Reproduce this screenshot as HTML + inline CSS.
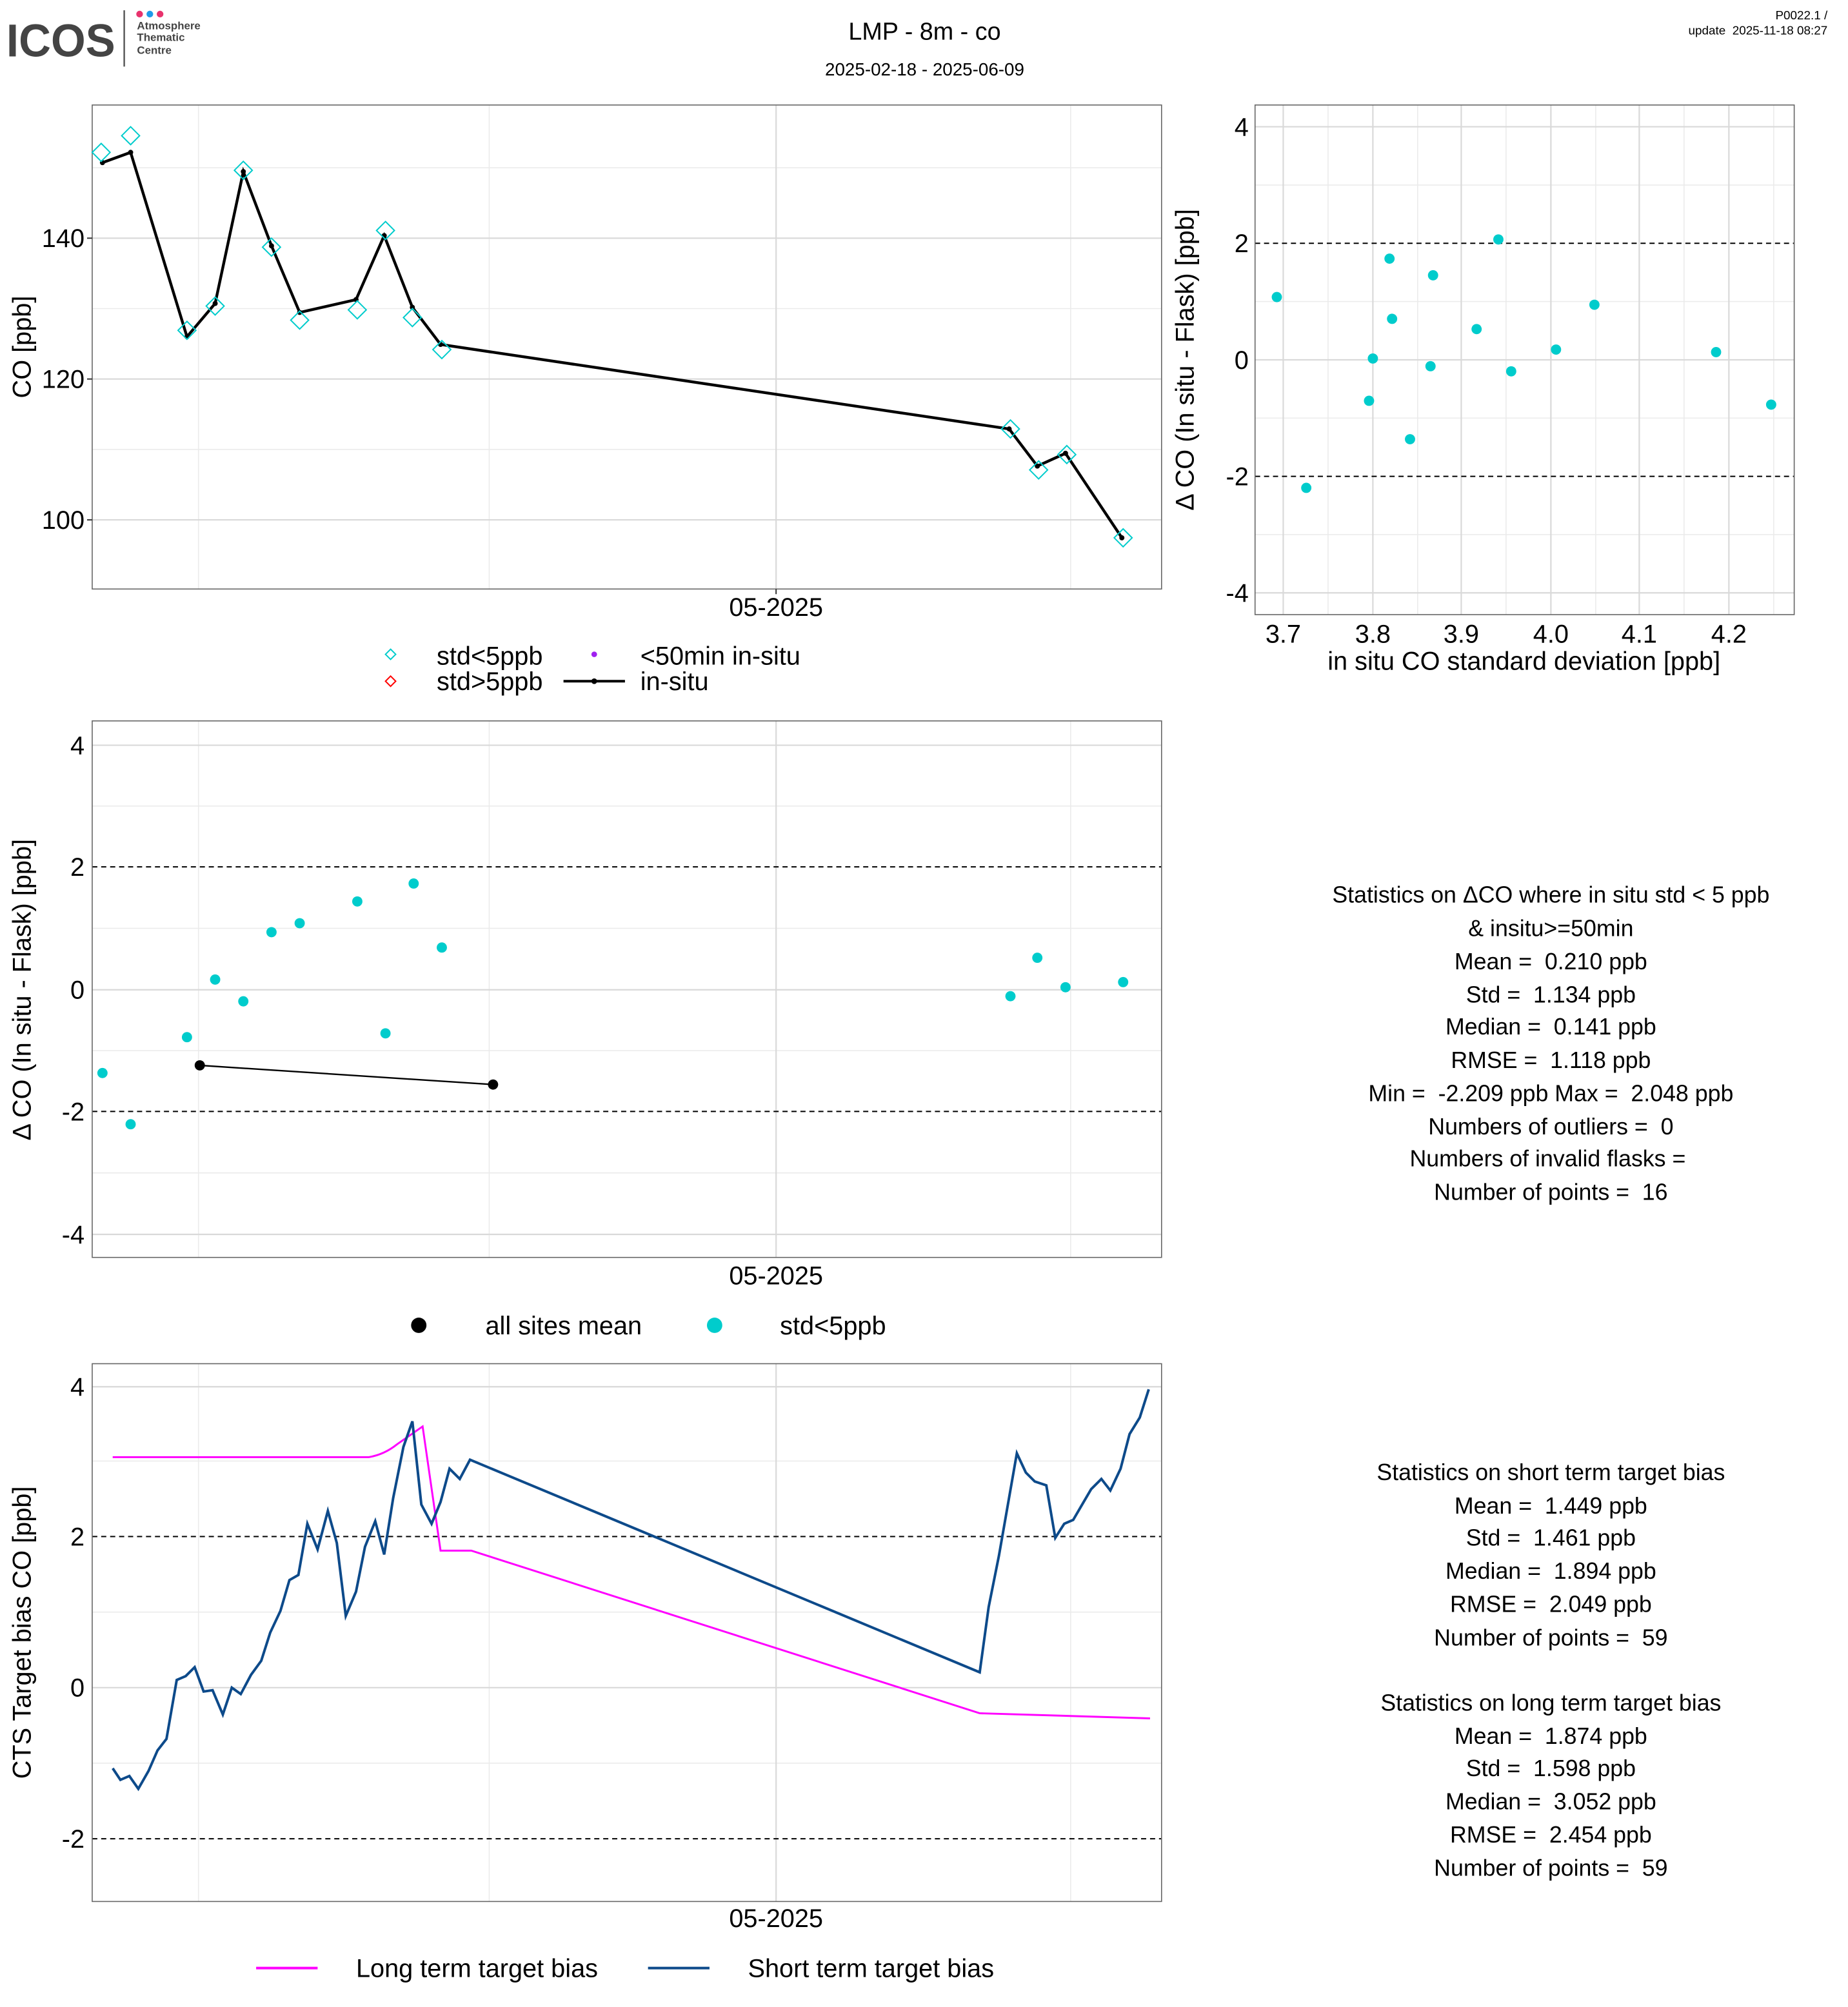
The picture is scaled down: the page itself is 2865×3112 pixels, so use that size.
<!DOCTYPE html>
<html><head><meta charset="utf-8"><style>html,body{margin:0;padding:0;background:#fff}svg{display:block}text{white-space:pre}</style></head>
<body>
<svg width="2865" height="3112" viewBox="0 0 1443 1567.4" preserveAspectRatio="none" xmlns="http://www.w3.org/2000/svg" font-family="Liberation Sans, sans-serif" xml:space="preserve">
<rect width="1443" height="1567.4" fill="#fff"/>
<text x="5" y="44" font-size="36" font-weight="bold" fill="#444" textLength="85" lengthAdjust="spacingAndGlyphs">ICOS</text>
<line x1="97" y1="8" x2="97" y2="52" stroke="#555" stroke-width="1.2"/>
<circle cx="109" cy="11" r="2.6" fill="#e8336d"/><circle cx="117" cy="11" r="2.6" fill="#1e9be9"/><circle cx="125" cy="11" r="2.6" fill="#e8336d"/>
<g font-size="8.5" font-weight="bold" fill="#444"><text x="107" y="23">Atmosphere</text><text x="107" y="32">Thematic</text><text x="107" y="42">Centre</text></g>
<text x="722" y="31" font-size="19" text-anchor="middle">LMP - 8m - co</text>
<text x="722" y="59" font-size="14" text-anchor="middle">2025-02-18 - 2025-06-09</text>
<text x="1427" y="15" font-size="9.5" text-anchor="end">P0022.1 /</text>
<text x="1427" y="27" font-size="9.5" text-anchor="end">update  2025-11-18 08:27</text>

<g>
<g stroke="#ebebeb" stroke-width="0.8"><line x1="72" x2="907" y1="131" y2="131"/><line x1="72" x2="907" y1="241" y2="241"/><line x1="72" x2="907" y1="351" y2="351"/>
<line x1="155" x2="155" y1="82" y2="460"/><line x1="382" x2="382" y1="82" y2="460"/><line x1="836" x2="836" y1="82" y2="460"/></g>
<g stroke="#d9d9d9" stroke-width="1.1"><line x1="72" x2="907" y1="186" y2="186"/><line x1="72" x2="907" y1="296" y2="296"/><line x1="72" x2="907" y1="406" y2="406"/><line x1="606" x2="606" y1="82" y2="460"/></g>
<rect x="72" y="82" width="835" height="378" fill="none" stroke="#666" stroke-width="0.8"/>
<g font-size="20" text-anchor="end"><text x="66" y="193">140</text><text x="66" y="303">120</text><text x="66" y="413">100</text></g>
<g stroke="#333"><line x1="68" x2="72" y1="186" y2="186"/><line x1="68" x2="72" y1="296" y2="296"/><line x1="68" x2="72" y1="406" y2="406"/><line x1="606" x2="606" y1="460" y2="464"/></g>
<text x="606" y="481" font-size="20" text-anchor="middle">05-2025</text>
<text transform="translate(24,271) rotate(-90)" font-size="20" text-anchor="middle">CO [ppb]</text>
<polyline fill="none" stroke="#000" stroke-width="2.2" points="80,127 102,119 146,263 168,237 190,134 212,192 234,244 278,234 300,184 322,240 344,269 788,335 810,364 832,354 876,420"/>
<g fill="#000"><circle cx="80" cy="127" r="2"/><circle cx="102" cy="119" r="2"/><circle cx="146" cy="263" r="2"/><circle cx="168" cy="237" r="2"/><circle cx="190" cy="134" r="2"/><circle cx="212" cy="192" r="2"/><circle cx="234" cy="244" r="2"/><circle cx="278" cy="234" r="2"/><circle cx="300" cy="184" r="2"/><circle cx="322" cy="240" r="2"/><circle cx="344" cy="269" r="2"/><circle cx="788" cy="335" r="2"/><circle cx="810" cy="364" r="2"/><circle cx="832" cy="354" r="2"/><circle cx="876" cy="420" r="2"/></g>
<g fill="none" stroke="#00cccc" stroke-width="1">
<path d="M79,112l7,7l-7,7l-7,-7z"/><path d="M102,99l7,7l-7,7l-7,-7z"/><path d="M146,251l7,7l-7,7l-7,-7z"/><path d="M168,232l7,7l-7,7l-7,-7z"/><path d="M190,126l7,7l-7,7l-7,-7z"/><path d="M212,186l7,7l-7,7l-7,-7z"/><path d="M234,243l7,7l-7,7l-7,-7z"/><path d="M279,235l7,7l-7,7l-7,-7z"/><path d="M301,173l7,7l-7,7l-7,-7z"/><path d="M322,241l7,7l-7,7l-7,-7z"/><path d="M345,266l7,7l-7,7l-7,-7z"/><path d="M789,328l7,7l-7,7l-7,-7z"/><path d="M811,360l7,7l-7,7l-7,-7z"/><path d="M833,348l7,7l-7,7l-7,-7z"/><path d="M877,413l7,7l-7,7l-7,-7z"/>
</g>
<path d="M305,507l4,4l-4,4l-4,-4z" fill="none" stroke="#00cccc"/>
<path d="M305,528l4,4l-4,4l-4,-4z" fill="none" stroke="#ff0000"/>
<circle cx="464" cy="511" r="2.2" fill="#a020f0"/>
<line x1="440" x2="488" y1="532" y2="532" stroke="#000" stroke-width="2"/><circle cx="464" cy="532" r="2.2"/>
<g font-size="20"><text x="341" y="519">std&lt;5ppb</text><text x="341" y="539">std&gt;5ppb</text><text x="500" y="519">&lt;50min in-situ</text><text x="500" y="539">in-situ</text></g>
</g>

<g>
<g stroke="#ebebeb" stroke-width="0.8"><line x1="980" x2="1401" y1="144.5" y2="144.5"/><line x1="980" x2="1401" y1="235.5" y2="235.5"/><line x1="980" x2="1401" y1="326.5" y2="326.5"/><line x1="980" x2="1401" y1="417.5" y2="417.5"/>
<line x1="1037" x2="1037" y1="82" y2="480"/><line x1="1107" x2="1107" y1="82" y2="480"/><line x1="1176" x2="1176" y1="82" y2="480"/><line x1="1246" x2="1246" y1="82" y2="480"/><line x1="1315" x2="1315" y1="82" y2="480"/><line x1="1385" x2="1385" y1="82" y2="480"/></g>
<g stroke="#d9d9d9" stroke-width="1.1"><line x1="980" x2="1401" y1="99" y2="99"/><line x1="980" x2="1401" y1="281" y2="281"/><line x1="980" x2="1401" y1="463" y2="463"/>
<line x1="1002" x2="1002" y1="82" y2="480"/><line x1="1072" x2="1072" y1="82" y2="480"/><line x1="1141" x2="1141" y1="82" y2="480"/><line x1="1211" x2="1211" y1="82" y2="480"/><line x1="1280" x2="1280" y1="82" y2="480"/><line x1="1350" x2="1350" y1="82" y2="480"/></g>
<g stroke="#000" stroke-dasharray="4,3" stroke-width="1"><line x1="980" x2="1401" y1="190" y2="190"/><line x1="980" x2="1401" y1="372" y2="372"/></g>
<rect x="980" y="82" width="421" height="398" fill="none" stroke="#666" stroke-width="0.8"/>
<g font-size="20" text-anchor="end"><text x="975" y="106">4</text><text x="975" y="197">2</text><text x="975" y="288">0</text><text x="975" y="379">-2</text><text x="975" y="470">-4</text></g>
<g font-size="20" text-anchor="middle"><text x="1002" y="502">3.7</text><text x="1072" y="502">3.8</text><text x="1141" y="502">3.9</text><text x="1211" y="502">4.0</text><text x="1280" y="502">4.1</text><text x="1350" y="502">4.2</text></g>
<text x="1190" y="523" font-size="20" text-anchor="middle">in situ CO standard deviation [ppb]</text>
<text transform="translate(932,281) rotate(-90)" font-size="20" text-anchor="middle">Δ CO (In situ - Flask) [ppb]</text>
<g fill="#00cccc"><circle cx="997" cy="232" r="4"/><circle cx="1020" cy="381" r="4"/><circle cx="1069" cy="313" r="4"/><circle cx="1072" cy="280" r="4"/><circle cx="1085" cy="202" r="4"/><circle cx="1087" cy="249" r="4"/><circle cx="1101" cy="343" r="4"/><circle cx="1117" cy="286" r="4"/><circle cx="1119" cy="215" r="4"/><circle cx="1153" cy="257" r="4"/><circle cx="1170" cy="187" r="4"/><circle cx="1180" cy="290" r="4"/><circle cx="1215" cy="273" r="4"/><circle cx="1245" cy="238" r="4"/><circle cx="1340" cy="275" r="4"/><circle cx="1383" cy="316" r="4"/></g>
</g>

<g>
<g stroke="#ebebeb" stroke-width="0.8"><line x1="72" x2="907" y1="629.5" y2="629.5"/><line x1="72" x2="907" y1="725" y2="725"/><line x1="72" x2="907" y1="820.5" y2="820.5"/><line x1="72" x2="907" y1="916" y2="916"/>
<line x1="155" x2="155" y1="563" y2="982"/><line x1="382" x2="382" y1="563" y2="982"/><line x1="836" x2="836" y1="563" y2="982"/></g>
<g stroke="#d9d9d9" stroke-width="1.1"><line x1="72" x2="907" y1="582" y2="582"/><line x1="72" x2="907" y1="773" y2="773"/><line x1="72" x2="907" y1="964" y2="964"/><line x1="606" x2="606" y1="563" y2="982"/></g>
<g stroke="#000" stroke-dasharray="4,3" stroke-width="1"><line x1="72" x2="907" y1="677" y2="677"/><line x1="72" x2="907" y1="868" y2="868"/></g>
<rect x="72" y="563" width="835" height="419" fill="none" stroke="#666" stroke-width="0.8"/>
<g font-size="20" text-anchor="end"><text x="66" y="589">4</text><text x="66" y="684">2</text><text x="66" y="780">0</text><text x="66" y="875">-2</text><text x="66" y="971">-4</text></g>
<text x="606" y="1003" font-size="20" text-anchor="middle">05-2025</text>
<text transform="translate(24,773) rotate(-90)" font-size="20" text-anchor="middle">Δ CO (In situ - Flask) [ppb]</text>
<line x1="156" y1="832" x2="385" y2="847" stroke="#000" stroke-width="1.2"/><circle cx="156" cy="832" r="4"/><circle cx="385" cy="847" r="4"/>
<g fill="#00cccc"><circle cx="80" cy="838" r="4"/><circle cx="102" cy="878" r="4"/><circle cx="146" cy="810" r="4"/><circle cx="168" cy="765" r="4"/><circle cx="190" cy="782" r="4"/><circle cx="212" cy="728" r="4"/><circle cx="234" cy="721" r="4"/><circle cx="279" cy="704" r="4"/><circle cx="301" cy="807" r="4"/><circle cx="323" cy="690" r="4"/><circle cx="345" cy="740" r="4"/><circle cx="789" cy="778" r="4"/><circle cx="810" cy="748" r="4"/><circle cx="832" cy="771" r="4"/><circle cx="877" cy="767" r="4"/></g>
<circle cx="327" cy="1035" r="6"/><circle cx="558" cy="1035" r="6" fill="#00cccc"/>
<g font-size="20"><text x="379" y="1042">all sites mean</text><text x="609" y="1042">std&lt;5ppb</text></g>
</g>

<g font-size="18" text-anchor="middle">
<text x="1211" y="705">Statistics on ΔCO where in situ std &lt; 5 ppb</text>
<text x="1211" y="731">&amp; insitu&gt;=50min</text>
<text x="1211" y="757">Mean =  0.210 ppb</text>
<text x="1211" y="783">Std =  1.134 ppb</text>
<text x="1211" y="808">Median =  0.141 ppb</text>
<text x="1211" y="834">RMSE =  1.118 ppb</text>
<text x="1211" y="860">Min =  -2.209 ppb Max =  2.048 ppb</text>
<text x="1211" y="886">Numbers of outliers =  0</text>
<text x="1211" y="911">Numbers of invalid flasks = </text>
<text x="1211" y="937">Number of points =  16</text>
</g>

<g>
<g stroke="#ebebeb" stroke-width="0.8"><line x1="72" x2="907" y1="1141" y2="1141"/><line x1="72" x2="907" y1="1259" y2="1259"/><line x1="72" x2="907" y1="1377" y2="1377"/>
<line x1="155" x2="155" y1="1065" y2="1485"/><line x1="382" x2="382" y1="1065" y2="1485"/><line x1="836" x2="836" y1="1065" y2="1485"/></g>
<g stroke="#d9d9d9" stroke-width="1.1"><line x1="72" x2="907" y1="1083" y2="1083"/><line x1="72" x2="907" y1="1318" y2="1318"/><line x1="606" x2="606" y1="1065" y2="1485"/></g>
<g stroke="#000" stroke-dasharray="4,3" stroke-width="1"><line x1="72" x2="907" y1="1200" y2="1200"/><line x1="72" x2="907" y1="1436" y2="1436"/></g>
<rect x="72" y="1065" width="835" height="420" fill="none" stroke="#666" stroke-width="0.8"/>
<g font-size="20" text-anchor="end"><text x="66" y="1090">4</text><text x="66" y="1207">2</text><text x="66" y="1325">0</text><text x="66" y="1443">-2</text></g>
<text x="606" y="1505" font-size="20" text-anchor="middle">05-2025</text>
<text transform="translate(24,1275) rotate(-90)" font-size="20" text-anchor="middle">CTS Target bias CO [ppb]</text>
<path d="M88,1138 L288,1138 Q300,1136 310,1128 L330,1114 L344,1211 L368,1211 L765,1338 L898,1342" fill="none" stroke="#ff00ff" stroke-width="1.5"/>
<polyline fill="none" stroke="#0d4a8a" stroke-width="2" points="88,1381 94,1390 101,1387 108,1397 116,1383 123,1367 130,1358 138,1312 145,1309 152,1302 159,1321 166,1320 174,1339 181,1318 188,1323 196,1308 204,1297 211,1275 219,1258 226,1234 233,1230 240,1190 248,1210 256,1180 263,1205 270,1262 278,1243 285,1208 293,1188 300,1214 307,1170 315,1130 322,1110 329,1175 337,1190 344,1173 351,1147 359,1155 367,1140 765,1306 772,1255 780,1215 787,1175 794,1135 801,1150 808,1157 817,1160 824,1201 831,1190 838,1187 845,1175 852,1163 860,1155 867,1164 875,1147 882,1120 890,1107 897,1085"/>
<line x1="200" x2="248" y1="1537" y2="1537" stroke="#ff00ff" stroke-width="2"/>
<line x1="506" x2="554" y1="1537" y2="1537" stroke="#0d4a8a" stroke-width="2"/>
<g font-size="20"><text x="278" y="1544">Long term target bias</text><text x="584" y="1544">Short term target bias</text></g>
</g>

<g font-size="18" text-anchor="middle">
<text x="1211" y="1156">Statistics on short term target bias</text>
<text x="1211" y="1182">Mean =  1.449 ppb</text>
<text x="1211" y="1207">Std =  1.461 ppb</text>
<text x="1211" y="1233">Median =  1.894 ppb</text>
<text x="1211" y="1259">RMSE =  2.049 ppb</text>
<text x="1211" y="1285">Number of points =  59</text>
<text x="1211" y="1336">Statistics on long term target bias</text>
<text x="1211" y="1362">Mean =  1.874 ppb</text>
<text x="1211" y="1387">Std =  1.598 ppb</text>
<text x="1211" y="1413">Median =  3.052 ppb</text>
<text x="1211" y="1439">RMSE =  2.454 ppb</text>
<text x="1211" y="1465">Number of points =  59</text>
</g>
</svg>
</body></html>
